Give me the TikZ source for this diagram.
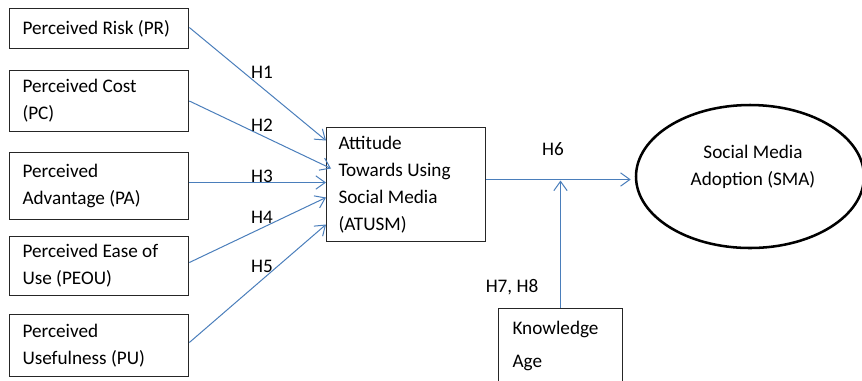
\documentclass[tikz,border=0pt]{standalone}
\usepackage{fontspec}
\setmainfont{Carlito}
\usetikzlibrary{arrows.meta,calc,shapes.geometric}
\definecolor{linkblue}{RGB}{74,126,187}
\begin{document}
\begin{tikzpicture}[x=0.75pt,y=-0.75pt,
		font=\fontsize{14.4}{20.25}\selectfont,
		factorbox/.style={draw=black!85, line width=0.75pt, anchor=north west, align=flush left, inner xsep=9.75pt, inner ysep=0pt, text width=115pt, minimum width=134.25pt},
		hyparrow/.style={draw=linkblue, line width=0.75pt, -{Straight Barb[length=7pt,width=10pt]}}]
	\useasboundingbox (0,0) rectangle (862,380);
	\node[factorbox, minimum height=30pt] (pr) at (9,8) {Perceived Risk (PR)};
	\node[factorbox, minimum height=45.75pt] (pc) at (9,70) {Perceived Cost\\(PC)};
	\node[factorbox, minimum height=50.25pt] (pa) at (9,152) {Perceived\\Advantage (PA)};
	\node[factorbox, minimum height=44.25pt] (peou) at (9,236) {Perceived Ease of\\Use (PEOU)};
	\node[factorbox, minimum height=46.5pt] (pu) at (9,314) {Perceived\\Usefulness (PU)};
	\node[factorbox, inner xsep=9pt, text width=101.25pt, minimum width=119.25pt, minimum height=85.5pt] (atusm) at (326,127) {Attitude\\Towards Using\\Social Media\\(ATUSM)};
	\node[factorbox, inner xsep=10.5pt, text width=72pt, minimum width=93pt, minimum height=56pt] (know) at (498,308) {Knowledge\\[4.5pt]Age};
	\node[draw=black, ellipse, line width=1.9pt, minimum width=171pt, minimum height=107.25pt, inner sep=0pt] (sma) at (750,176.5) {};
	\node[align=center] (smatext) at (753,166.5) {Social Media\\Adoption (SMA)};
	\draw[hyparrow] ($(pr.east)+(0,-1)$) -- ($(atusm.west)+(0,-44)$);
	\draw[hyparrow] (pc.east) -- ($(atusm.west)+(5,-16)$);
	\draw[hyparrow] ($(pa.east)+(0,-3.5)$) -- ($(atusm.west)+(0,-2)$);
	\draw[hyparrow] ($(peou.east)+(0,-3.5)$) -- ($(atusm.west)+(0,13)$);
	\draw[hyparrow] ($(pu.east)+(0,-3)$) -- ($(atusm.west)+(0,40)$);
	\draw[hyparrow, shorten >=3pt] ($(atusm.east)+(0,-5)$) coordinate (h6start) -- (h6start -| sma.west);
	\draw[hyparrow, shorten >=0.75pt] (know.north) -- (know.north |- h6start);
	\node (h1) at (262,72) {H1};
	\node (h2) at (262,125) {H2};
	\node (h3) at (262,176) {H3};
	\node (h4) at (262,217) {H4};
	\node (h5) at (262,266) {H5};
	\node (h6) at (553,149) {H6};
	\node (h78) at (512,287) {H7, H8};
\end{tikzpicture}
\end{document}
